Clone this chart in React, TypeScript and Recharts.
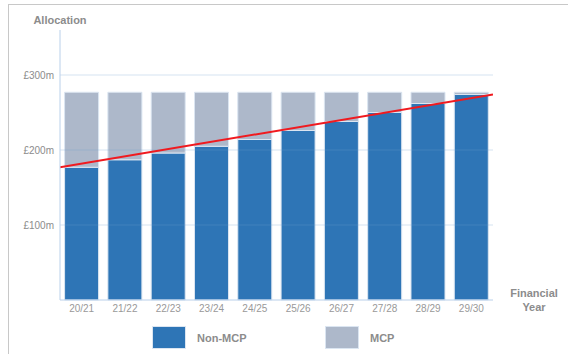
import { ComposedChart, Bar, Line, XAxis, YAxis, ReferenceLine } from "recharts"

const years = ["20/21", "21/22", "22/23", "23/24", "24/25", "25/26", "26/27", "27/28", "28/29", "29/30"]
// £m per financial year
const nonMcp = [177, 187, 196, 205, 214, 226, 238, 250, 262, 274]
const mcp = [100, 90, 81, 72, 63, 51, 39, 27, 15, 3]
const yTicks = [100, 200, 300]
// straight trend across the full width of the plot (start / end of range)
const trendPos = [0, 10]
const trendValues = [177, 274]

const series = [
  { key: "nonMcp", name: "Non-MCP", color: "#2e75b6" },
  { key: "mcp", name: "MCP", color: "#adb8ca" },
]

const data = years.map((year, i) => ({ year, nonMcp: nonMcp[i], mcp: mcp[i] }))
const trendData = trendPos.map((t, i) => ({ t, value: trendValues[i] }))

const font = "'Liberation Sans', Arial, sans-serif"
const grey = "#8c8c8c"

const formatMoney = (v: number) => `£${v}m`

function AxisTitle({ viewBox }: any) {
  const { x, y, width } = viewBox
  return (
    <text x={x + width + 41} y={y} textAnchor="middle" fill={grey} fontSize={11} fontWeight="bold" fontFamily={font}>
      <tspan x={x + width + 41} dy={-3}>Financial</tspan>
      <tspan x={x + width + 41} dy={14}>Year</tspan>
    </text>
  )
}

function AllocationTitle({ viewBox }: any) {
  const { x, y, width } = viewBox
  return (
    <text x={x + width} y={y - 9} textAnchor="middle" dominantBaseline="middle" fill={grey} fontSize={11} fontWeight="bold" fontFamily={font}>
      Allocation
    </text>
  )
}

function LegendBoxes() {
  return (
    <div style={{ position: "absolute", left: 152, top: 326, display: "flex", fontFamily: font }}>
      {series.map((s) => (
        <div key={s.key} style={{ display: "flex", alignItems: "center", width: 173 }}>
          <div style={{ width: 34, height: 23, background: s.color, boxShadow: "inset 0 0 0 1px #dbe5f1" }} />
          <span style={{ marginLeft: 11, fontSize: 11, fontWeight: "bold", color: grey }}>{s.name}</span>
        </div>
      ))}
    </div>
  )
}

export default function App() {
  return (
    <div style={{ position: "absolute", left: 0, top: 0, width: 568, height: 354, background: "#fff" }}>
      <div
        style={{
          position: "absolute",
          left: 8,
          top: 4,
          right: 0,
          bottom: 0,
          borderTop: "1px solid #c8c8c8",
          borderLeft: "1px solid #c8c8c8",
        }}
      />
      <ComposedChart
        width={568}
        height={354}
        data={data}
        margin={{ top: 30, right: 75, bottom: 24, left: 0 }}
        barCategoryGap="10.6%"
        style={{ position: "absolute", left: 0, top: 0 }}
      >
        {/* translucent horizontal gridlines, they sit over the bars */}
        {yTicks.map((v) => (
          <ReferenceLine key={v} y={v} stroke="#6e9fd2" strokeOpacity={0.29} strokeWidth={1} />
        ))}
        <XAxis
          dataKey="year"
          height={30}
          tickLine={false}
          tickSize={0}
          tickMargin={5}
          axisLine={{ stroke: "#b9d0ea" }}
          tick={{ fill: "#999", fontSize: 10, fontFamily: font }}
          interval={0}
          label={<AxisTitle />}
        />
        <XAxis xAxisId="trend" dataKey="t" type="number" domain={[0, 10]} hide allowDataOverflow />
        <YAxis
          width={60}
          domain={[0, 360]}
          ticks={yTicks}
          tickFormatter={formatMoney}
          tickLine={false}
          tickSize={0}
          tickMargin={6}
          axisLine={{ stroke: "#b9d0ea" }}
          tick={{ fill: grey, fontSize: 10, fontFamily: font }}
          label={<AllocationTitle />}
        />
        {series.map((s) => (
          <Bar
            key={s.key}
            dataKey={s.key}
            name={s.name}
            stackId="a"
            fill={s.color}
            stroke="#dbe5f1"
            strokeWidth={1}
            isAnimationActive={false}
          />
        ))}
        <Line
          xAxisId="trend"
          data={trendData}
          dataKey="value"
          type="linear"
          stroke="#f01a1f"
          strokeWidth={2}
          dot={false}
          activeDot={false}
          legendType="none"
          isAnimationActive={false}
        />
      </ComposedChart>
      <LegendBoxes />
    </div>
  )
}
